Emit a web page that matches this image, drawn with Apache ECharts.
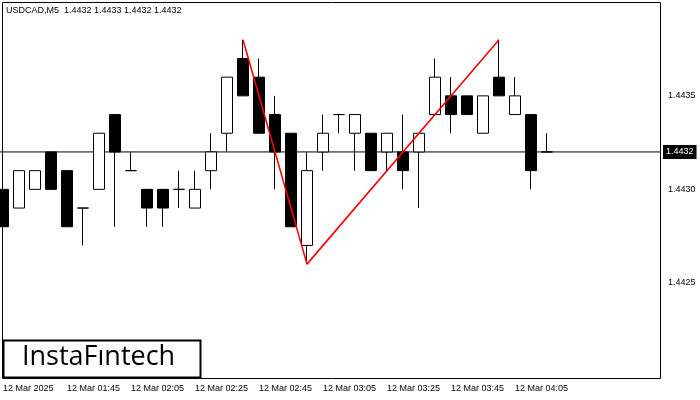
<!DOCTYPE html>
<html><head><meta charset="utf-8">
<script src="https://cdn.jsdelivr.net/npm/echarts@6/dist/echarts.min.js"></script>
<style>html,body{margin:0;padding:0;background:#fff}#c{width:700px;height:400px}</style>
</head><body><div id="c"></div>
<script>
const times = ['12 Mar 2025','12 Mar 01:30','12 Mar 01:35','12 Mar 01:40','12 Mar 01:45','12 Mar 01:50','12 Mar 01:55','12 Mar 02:00','12 Mar 02:05','12 Mar 02:10','12 Mar 02:15','12 Mar 02:20','12 Mar 02:25','12 Mar 02:30','12 Mar 02:35','12 Mar 02:40','12 Mar 02:45','12 Mar 02:50','12 Mar 02:55','12 Mar 03:00','12 Mar 03:05','12 Mar 03:10','12 Mar 03:15','12 Mar 03:20','12 Mar 03:25','12 Mar 03:30','12 Mar 03:35','12 Mar 03:40','12 Mar 03:45','12 Mar 03:50','12 Mar 03:55','12 Mar 04:00','12 Mar 04:05','12 Mar 04:10','12 Mar 04:15'];
const opens  = [1.4430,1.4429,1.4430,1.4432,1.4431,1.4429,1.4430,1.4434,1.4431,1.4430,1.4430,1.4430,1.4429,1.4431,1.4433,1.4437,1.4436,1.4434,1.4433,1.4427,1.4432,1.4434,1.4433,1.4433,1.4432,1.4432,1.4432,1.4434,1.4435,1.4435,1.4433,1.4436,1.4434,1.4434,1.4432];
const closes = [1.4428,1.4431,1.4431,1.4430,1.4428,1.4429,1.4433,1.4432,1.4431,1.4429,1.4429,1.4430,1.4430,1.4432,1.4436,1.4435,1.4433,1.4432,1.4428,1.4431,1.4433,1.4434,1.4434,1.4431,1.4433,1.4431,1.4433,1.4436,1.4434,1.4434,1.4435,1.4435,1.4435,1.4431,1.4432];
const lows   = [1.4428,1.4429,1.4430,1.4430,1.4428,1.4427,1.4430,1.4428,1.4431,1.4428,1.4428,1.4429,1.4429,1.4430,1.4432,1.4435,1.4433,1.4430,1.4428,1.4426,1.4431,1.4433,1.4431,1.4431,1.4431,1.4430,1.4429,1.4434,1.4433,1.4434,1.4433,1.4435,1.4434,1.4430,1.4432];
const highs  = [1.4430,1.4431,1.4431,1.4432,1.4431,1.4429,1.4433,1.4434,1.4432,1.4430,1.4430,1.4431,1.4431,1.4433,1.4436,1.4438,1.4437,1.4435,1.4433,1.4432,1.4434,1.4434,1.4434,1.4433,1.4433,1.4434,1.4433,1.4437,1.4436,1.4435,1.4435,1.4438,1.4436,1.4434,1.4433];
const patternIdx = [15,19,31];
const patternVal = [1.4438,1.4426,1.4438];
const yTicks = [1.4425,1.4430,1.4435];
const xTicks = [0,4,8,12,16,20,24,28,32];
const lastPrice = 1.4432;
const xMin = -0.1875, xMax = 41.0625;

const candles = opens.map((o,i)=>[i,o,closes[i],lows[i],highs[i]]);
const redLine = patternIdx.map((k,j)=>[k,patternVal[j]]);
const priceLine = [[xMin,lastPrice],[xMax,lastPrice]];

const F = 'Liberation Sans';
const chart = echarts.init(document.getElementById('c'));
chart.setOption({
  animation:false,
  grid:{left:0,top:2,width:660,height:376},
  xAxis:{type:'value',min:xMin,max:xMax,
    axisLine:{show:false},splitLine:{show:false},
    axisTick:{show:false},
    axisLabel:{customValues:xTicks,align:'left',margin:6,fontSize:9,color:'#000',fontFamily:F,
      formatter:v=>times[Math.round(v)]||''}},
  yAxis:{type:'value',position:'right',min:1.441991,max:1.444002,scale:true,
    axisLine:{show:false},splitLine:{show:false},
    axisTick:{show:false},
    axisLabel:{customValues:yTicks,fontSize:9,color:'#000',margin:8,fontFamily:F,
      formatter:v=>v.toFixed(4)}},
  series:[
    {type:'line',data:priceLine,symbol:'none',lineStyle:{color:'#000',width:1},z:1,
      endLabel:{show:true,formatter:lastPrice.toFixed(4),backgroundColor:'#000',color:'#fff',
        fontSize:9,padding:[3,3,2,3],distance:3,fontFamily:F}},
    {type:'candlestick',data:candles,barWidth:11,z:3,encode:{x:0,y:[1,2,3,4]},
      itemStyle:{color:'#fff',color0:'#000',borderColor:'#000',borderColor0:'#000',borderWidth:1}},
    {type:'line',data:redLine,symbol:'none',
      lineStyle:{color:'#ff0000',width:1.6},z:5}
  ],
  graphic:[
    {type:'rect',shape:{x:2.5,y:2.5,width:658,height:376},style:{fill:null,stroke:'#000',lineWidth:1},silent:true,z:20},
    {type:'text',left:6,top:6,style:{text:'USDCAD,M5  1.4432 1.4433 1.4432 1.4432',fontSize:9,fill:'#000',fontFamily:F}},
    {type:'rect',shape:{x:3.5,y:340.5,width:197,height:37},style:{fill:'#fff',stroke:'#000',lineWidth:2},z:10},
    {type:'text',left:22,top:344,z:11,style:{text:'InstaFıntech',fontSize:27,fontWeight:500,fill:'#000',fontFamily:'Open Sans'}}
  ]
});
</script></body></html>
